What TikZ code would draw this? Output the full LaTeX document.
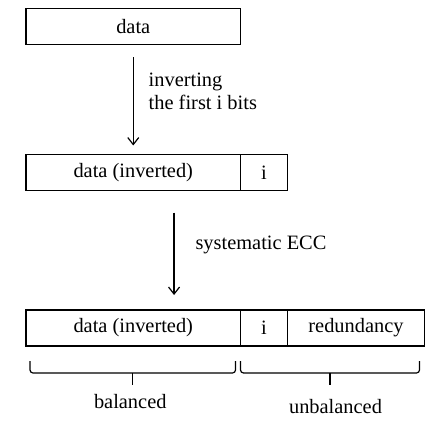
\documentclass[tikz,border=0pt]{standalone}
\usepackage{fontspec}
\setmainfont{Liberation Serif}
\usetikzlibrary{arrows.meta, positioning, calc}

\begin{document}
\begin{tikzpicture}[
    node distance = 55pt and 0pt,
    cell/.style = {rectangle, draw, semithick, minimum height=18pt, inner sep=0pt, outer sep=0pt, font=\fontsize{10.2}{11.6}\selectfont},
    datacell/.style = {cell, minimum width=107.25pt},
    idxcell/.style = {cell, minimum width=23.5pt},
    redcell/.style = {cell, minimum width=68.5pt},
    note/.style = {align=left, font=\fontsize{10.2}{11.6}\selectfont},
    line/.style = {draw, -{Straight Barb[length=3.5pt, width=5.5pt]}, semithick},
    brk/.style = {draw, semithick, rounded corners=1.5pt}
]
    \useasboundingbox (0,0) rectangle (221.5pt,-211pt);

    % Nodes - the three words
    \node (d0) [datacell, anchor=north west] at (13pt,-4.25pt) {data};

    \node (d1) [datacell, below=55pt of d0] {data (inverted)};
    \node (i1) [idxcell, right=0pt of d1] {i};

    \node (d2) [datacell, below=59.75pt of d1] {data (inverted)};
    \node (i2) [idxcell, right=0pt of d2] {i};
    \node (red) [redcell, right=0pt of i2] {redundancy};

    % Edges - encoding steps
    \draw [line, shorten <=6.5pt, shorten >=4.5pt] (d0) -- (d1);
    \node (n1) [note, anchor=west] at ($(d0.south)+(4.2pt,-23.5pt)$) {inverting\\the first i bits};

    \draw [line, shorten <=11pt, shorten >=7.5pt] ([xshift=20.4pt]d1.south) -- ([xshift=20.4pt]d2.north);
    \node (n2) [note, anchor=base west] at ($(d1.south)+(27.6pt,-29.5pt)$) {systematic ECC};

    % Braces under the codeword
    \coordinate (b1l) at ($(d2.south west)+(2pt,-7.5pt)$);
    \coordinate (b1r) at ($(d2.south east)+(-2.5pt,-7.5pt)$);
    \coordinate (b1m) at ($(b1l)!0.5!(b1r)+(0,-6pt)$);
    \draw [brk] (b1l) |- (b1m) -| (b1r);
    \draw [semithick] (b1m) -- ++(0,-6pt);
    \node (bal) [note, anchor=base] at ($(b1m)+(-1.25pt,-17.5pt)$) {balanced};

    \coordinate (b2l) at ($(i2.south west)+(0pt,-7.5pt)$);
    \coordinate (b2r) at ($(red.south east)+(-2.5pt,-7.5pt)$);
    \coordinate (b2m) at ($(b2l)!0.5!(b2r)+(0,-6pt)$);
    \draw [brk] (b2l) |- (b2m) -| (b2r);
    \draw [semithick] (b2m) -- ++(0,-6pt);
    \node (unbal) [note, anchor=base] at ($(b2m)+(2.75pt,-20pt)$) {unbalanced};

\end{tikzpicture}
\end{document}
